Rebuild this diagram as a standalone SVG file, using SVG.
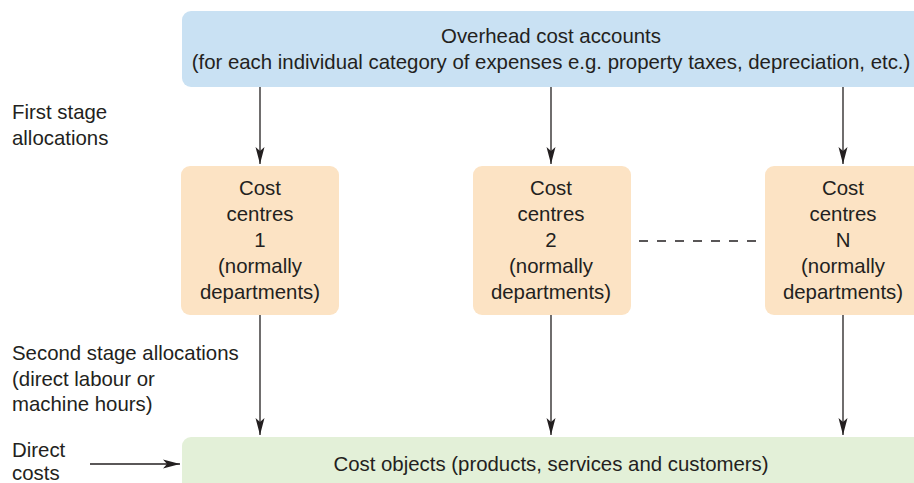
<svg xmlns="http://www.w3.org/2000/svg" width="914" height="483" viewBox="0 0 914 483">
<style>
text{font-family:"Liberation Sans",Arial,sans-serif;font-size:20.4px;fill:#231f20}
.c{text-anchor:middle}
.blue{fill:#c9e1f3}
.peach{fill:#fce3c4}
.green{fill:#e3f0d8}
.ln{stroke:#231f20;stroke-width:1.3;fill:none}
</style>
<defs>
<marker id="ah" markerWidth="18" markerHeight="10" refX="17" refY="5" orient="auto" markerUnits="userSpaceOnUse">
<path d="M0,0.5 L17,5 L0,9.5 L4,5 Z" fill="#231f20"/>
</marker>
</defs>
<g id="overhead">
<rect class="blue" x="182" y="11" width="745" height="76" rx="9"/>
<text class="c" x="551" y="43">Overhead cost accounts</text>
<text class="c" x="551" y="69">(for each individual category of expenses e.g. property taxes, depreciation, etc.)</text>
</g>
<g id="cc1">
<rect class="peach" x="181" y="166" width="158" height="149" rx="9"/>
<text class="c" x="260" y="195">Cost</text>
<text class="c" x="260" y="221">centres</text>
<text class="c" x="260" y="247">1</text>
<text class="c" x="260" y="273">(normally</text>
<text class="c" x="260" y="299">departments)</text>
</g>
<g id="cc2">
<rect class="peach" x="473" y="166" width="158" height="149" rx="9"/>
<text class="c" x="551" y="195">Cost</text>
<text class="c" x="551" y="221">centres</text>
<text class="c" x="551" y="247">2</text>
<text class="c" x="551" y="273">(normally</text>
<text class="c" x="551" y="299">departments)</text>
</g>
<g id="ccN">
<rect class="peach" x="765" y="166" width="170" height="149" rx="9"/>
<text class="c" x="843" y="195">Cost</text>
<text class="c" x="843" y="221">centres</text>
<text class="c" x="843" y="247">N</text>
<text class="c" x="843" y="273">(normally</text>
<text class="c" x="843" y="299">departments)</text>
</g>
<g id="costobjects">
<rect class="green" x="182" y="437" width="745" height="60" rx="9"/>
<text class="c" x="551" y="471">Cost objects (products, services and customers)</text>
</g>
<g id="labels">
<text x="12" y="119">First stage</text>
<text x="12" y="145">allocations</text>
<text x="12" y="360">Second stage allocations</text>
<text x="12" y="386">(direct labour or</text>
<text x="12" y="411">machine hours)</text>
<text x="12" y="457">Direct</text>
<text x="12" y="480">costs</text>
</g>
<g id="connectors">
<line class="ln" x1="260" y1="87" x2="260" y2="164" marker-end="url(#ah)"/>
<line class="ln" x1="551" y1="87" x2="551" y2="164" marker-end="url(#ah)"/>
<line class="ln" x1="843" y1="87" x2="843" y2="164" marker-end="url(#ah)"/>
<line class="ln" x1="260" y1="315" x2="260" y2="435" marker-end="url(#ah)"/>
<line class="ln" x1="551" y1="315" x2="551" y2="435" marker-end="url(#ah)"/>
<line class="ln" x1="843" y1="315" x2="843" y2="435" marker-end="url(#ah)"/>
<line class="ln" x1="90" y1="464" x2="180" y2="464" marker-end="url(#ah)"/>
<line class="ln" x1="639" y1="241" x2="759" y2="241" stroke-dasharray="9,9"/>
</g>
</svg>
